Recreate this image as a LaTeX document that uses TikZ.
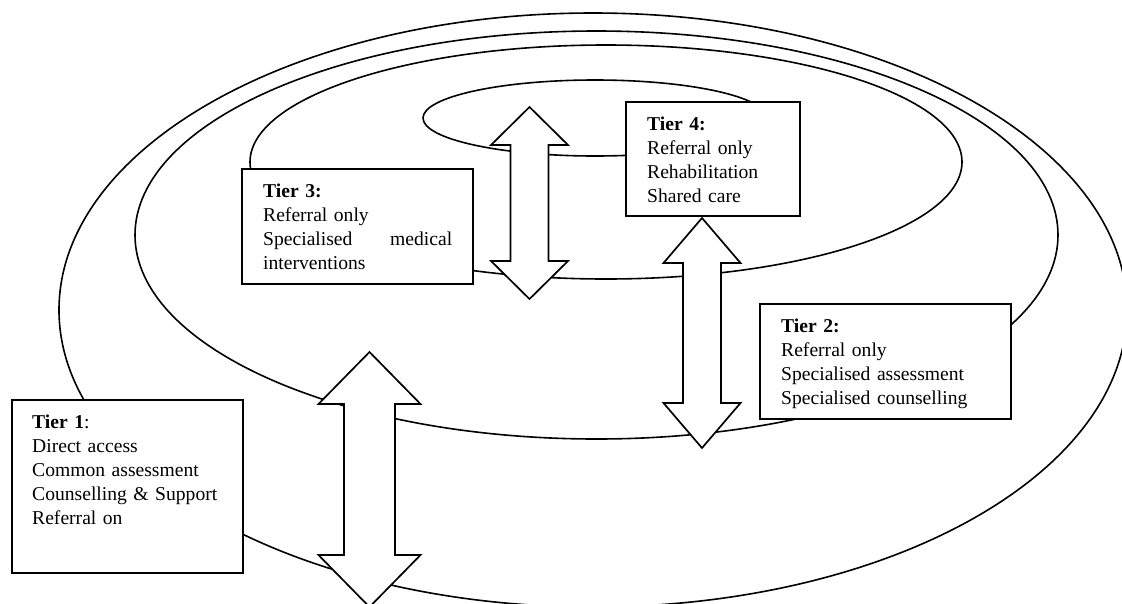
\documentclass[tikz,border=0pt]{standalone}
\usepackage{fontspec}
\setmainfont{Liberation Serif}
\usepackage{tikz}

% double block arrow: x, top tip, bottom tip, half shaft, half head, head length
\newcommand{\tierarrow}[6]{%
  \draw[fill=white,line width=1.7pt,line join=miter]
    (#1,#2) -- (#1+#5,#2+#6) -- (#1+#4,#2+#6) -- (#1+#4,#3-#6) -- (#1+#5,#3-#6)
    -- (#1,#3) -- (#1-#5,#3-#6) -- (#1-#4,#3-#6) -- (#1-#4,#2+#6) -- (#1-#5,#2+#6) -- cycle;}

\begin{document}
\begin{tikzpicture}[x=1pt,y=-1pt,font=\fontsize{19.6}{24}\selectfont]
\tikzstyle{ring}=[line width=1.6pt]
\tikzstyle{tierbox}=[draw,rectangle,fill=white,line width=2pt,anchor=north west,inner sep=0pt]
\tikzstyle{tiertext}=[anchor=north west,inner sep=0pt,align=left]
\clip (0,0) rectangle (1122,603);
% the four tiers
\draw[ring] (593,310) ellipse (534pt and 297pt);
\draw[ring] (596.5,235) ellipse (461.5pt and 204pt);
\draw[ring] (606,162) ellipse (356pt and 117pt);
\draw[ring] (595,118) ellipse (172pt and 38pt);
% arrows between tiers
\tierarrow{529.5}{107}{299}{19}{38.5}{38}
\tierarrow{702}{218}{448}{19}{38.5}{45}
\tierarrow{369.5}{352}{607}{25.5}{51}{52}
% boxes
\node[tierbox,minimum width=231pt,minimum height=173pt] (t1box) at (11,399) {};
\node[tierbox,minimum width=231pt,minimum height=115pt] (t3box) at (241,168) {};
\node[tierbox,minimum width=174pt,minimum height=114pt] (t4box) at (625,101) {};
\node[tierbox,minimum width=251pt,minimum height=115pt] (t2box) at (759,303) {};
\node[tiertext,text width=200pt] (t1text) at ([shift={(21,15.5)}]t1box.north west)
  {\textbf{Tier 1}:\\Direct access\\Common assessment\\Counselling \& Support\\Referral on};
\node[tiertext,text width=189pt] (t3text) at ([shift={(22,15.5)}]t3box.north west)
  {\textbf{Tier 3:}\\Referral only\\Specialised\hfill medical\\interventions};
\node[tiertext,text width=145pt] (t4text) at ([shift={(22,15.5)}]t4box.north west)
  {\textbf{Tier 4:}\\Referral only\\Rehabilitation\\Shared care};
\node[tiertext,text width=215pt] (t2text) at ([shift={(22,15.5)}]t2box.north west)
  {\textbf{Tier 2:}\\Referral only\\Specialised assessment\\Specialised counselling};
\end{tikzpicture}
\end{document}
